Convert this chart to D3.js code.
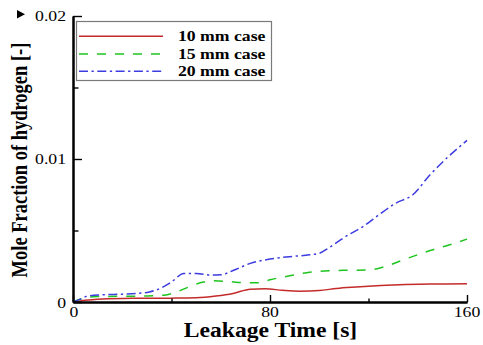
<!DOCTYPE html>
<html>
<head>
<meta charset="utf-8">
<script src="https://cdn.jsdelivr.net/npm/d3@7"></script>
<style>
  html, body { margin: 0; padding: 0; background: #fff; }
  svg { display: block; }
</style>
</head>
<body>
<svg id="chart" width="483" height="345"></svg>
<script>
// ---- data ----
const seriesNames = ["10 mm case", "15 mm case", "20 mm case"];
const xMajorTicks = [0, 80, 160];
const xMinorTicks = [40, 120];
const yMajorTicks = [0, 0.01, 0.02];
const yMinorTicks = [0.005, 0.015];
const yTickLabels = ["0", "0.01", "0.02"];
const xTickLabels = ["0", "80", "160"];

const time10 = [0, 5, 10, 20, 30, 40, 50, 58, 65, 72, 78, 85, 92, 100, 107, 115, 125, 135, 145, 160];
const case10 = [0, 0.00012, 0.0002, 0.00025, 0.00026, 0.00027, 0.0003, 0.00042, 0.0006, 0.0009, 0.00092, 0.00082, 0.00076, 0.0008, 0.00095, 0.00105, 0.00115, 0.00122, 0.00126, 0.00127];

const time15 = [0, 5, 10, 20, 30, 37, 42, 47, 53, 57, 62, 70, 76, 80, 87, 95, 104, 112, 120, 127, 135, 145, 153, 160];
const case15 = [0, 0.0003, 0.00038, 0.0004, 0.00042, 0.00048, 0.0007, 0.00105, 0.0014, 0.00148, 0.00145, 0.00135, 0.00135, 0.00155, 0.0018, 0.00205, 0.00218, 0.00222, 0.00224, 0.0025, 0.003, 0.0036, 0.004, 0.0044];

const time20 = [0, 3, 6, 12, 20, 26, 31, 36, 40, 45, 50, 56, 60, 65, 72, 80, 88, 96, 100, 104, 110, 118, 125, 131, 138, 145, 152, 160];
const case20 = [0, 0.0002, 0.00042, 0.0005, 0.00055, 0.0006, 0.0007, 0.001, 0.0014, 0.002, 0.002, 0.00188, 0.0019, 0.0022, 0.0027, 0.003, 0.00317, 0.0033, 0.0034, 0.0038, 0.0045, 0.0053, 0.0062, 0.0069, 0.0075, 0.0089, 0.0101, 0.0113];

// ---- layout ----
const FONT = "'Liberation Serif', 'Times New Roman', 'DejaVu Serif', serif";
const svg = d3.select("#chart");
const SX = 1.18; // horizontal stretch of the original picture
const x = d3.scaleLinear().domain([0, 160]).range([73, 467]);
const y = d3.scaleLinear().domain([0, 0.02]).range([302, 16]);

const styles = [
  { color: "#c42a2a", dash: null, width: 1.5 },
  { color: "#1fc41f", dash: "9,9", width: 1.5 },
  { color: "#3c3ce0", dash: "9,3.5,2.3,3.5", width: 1.5 }
];

function stretchedText(px, py, str, opts) {
  return svg.append("text")
    .attr("transform", `translate(${px},${py}) scale(${SX},1)`)
    .attr("text-anchor", opts.anchor || "start")
    .attr("font-family", FONT)
    .attr("font-size", opts.size)
    .attr("font-weight", opts.weight || "normal")
    .attr("fill", "#000")
    .text(str);
}

// ---- data lines ----
const line = d3.line().x(d => x(d[0])).y(d => y(d[1])).curve(d3.curveMonotoneX);
const allSeries = [
  d3.zip(time10, case10),
  d3.zip(time15, case15),
  d3.zip(time20, case20)
];
allSeries.forEach((s, i) => {
  svg.append("path")
    .datum(s)
    .attr("d", line)
    .attr("fill", "none")
    .attr("stroke", styles[i].color)
    .attr("stroke-width", styles[i].width)
    .attr("stroke-dasharray", styles[i].dash);
});

// ---- axes ----
const xAxisMajor = d3.axisBottom(x).tickValues(xMajorTicks).tickSize(-7).tickSizeOuter(0).tickFormat("");
const xAxisMinor = d3.axisBottom(x).tickValues(xMinorTicks).tickSize(-3.5).tickSizeOuter(0).tickFormat("");
const yAxisMajor = d3.axisLeft(y).tickValues(yMajorTicks).tickSize(-9).tickSizeOuter(0).tickFormat("");
const yAxisMinor = d3.axisLeft(y).tickValues(yMinorTicks).tickSize(-5.5).tickSizeOuter(0).tickFormat("");

function styleAxis(g) {
  g.select(".domain").attr("stroke", "#000").attr("stroke-width", 2);
  g.selectAll(".tick line").attr("stroke", "#000").attr("stroke-width", 1.4);
}
svg.append("g").attr("transform", "translate(0,302)").call(xAxisMinor).call(styleAxis);
svg.append("g").attr("transform", "translate(0,302)").call(xAxisMajor).call(styleAxis);
svg.append("g").attr("transform", "translate(73,0)").call(yAxisMinor).call(styleAxis);
svg.append("g").attr("transform", "translate(73,0)").call(yAxisMajor).call(styleAxis);

// tick labels
xMajorTicks.forEach((t, i) => {
  stretchedText(x(t) + (t === 0 ? 1 : 0), 317, xTickLabels[i], { anchor: "middle", size: 15 });
});
yMajorTicks.forEach((t, i) => {
  stretchedText(66, y(t) + 5 + (t === 0 ? 1 : 0), yTickLabels[i], { anchor: "end", size: 15 });
});

// axis titles
stretchedText(270.5, 337, "Leakage Time [s]", { anchor: "middle", size: 20, weight: "bold" });
svg.append("text")
  .attr("transform", `translate(27,160) scale(1.2,1) rotate(-90)`)
  .attr("text-anchor", "middle")
  .attr("font-family", FONT)
  .attr("font-size", 18.5)
  .attr("font-weight", "bold")
  .attr("fill", "#000")
  .text("Mole Fraction of hydrogen [-]");

// small marker triangle at top-left
svg.append("path")
  .attr("d", d3.line()([[17, 10], [25, 14.2], [17, 18.4]]) + "Z")
  .attr("fill", "#000");

// ---- legend ----
svg.append("rect")
  .attr("x", 76.5).attr("y", 21.5).attr("width", 195).attr("height", 59)
  .attr("fill", "#fff").attr("stroke", "#7a7a7a").attr("stroke-width", 1.2);
const legendRows = [36.3, 54, 71.3];
seriesNames.forEach((name, i) => {
  svg.append("line")
    .attr("x1", 79).attr("x2", 163)
    .attr("y1", legendRows[i]).attr("y2", legendRows[i])
    .attr("stroke", styles[i].color)
    .attr("stroke-width", styles[i].width)
    .attr("stroke-dasharray", styles[i].dash);
  stretchedText(178, legendRows[i] + 5, name, { size: 15, weight: "bold" });
});
</script>
</body>
</html>
